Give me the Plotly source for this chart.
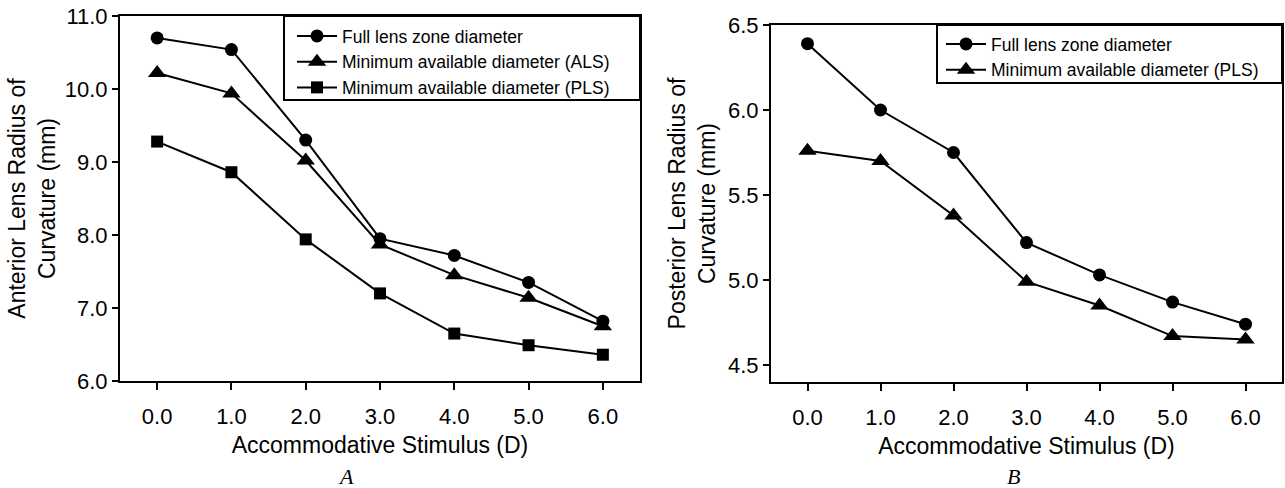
import plotly.graph_objects as go

stimulus = [0, 1, 2, 3, 4, 5, 6]
tick_labels = ["0.0", "1.0", "2.0", "3.0", "4.0", "5.0", "6.0"]

# Panel A: anterior lens radius of curvature (mm)
ant_full = [10.70, 10.54, 9.30, 7.95, 7.72, 7.35, 6.82]
ant_als = [10.22, 9.94, 9.02, 7.87, 7.45, 7.14, 6.75]
ant_pls = [9.28, 8.86, 7.94, 7.20, 6.65, 6.49, 6.36]

# Panel B: posterior lens radius of curvature (mm)
post_full = [6.39, 6.00, 5.75, 5.22, 5.03, 4.87, 4.74]
post_pls = [5.76, 5.70, 5.38, 4.99, 4.85, 4.67, 4.65]

W, H = 1285, 488
FONT = "Liberation Sans, Arial, sans-serif"

def px(x):
    return x / W

def py(y):
    return 1 - y / H

fig = go.Figure()

line = dict(color="black", width=2)

def add(x, y, name, symbol, size, xa, ya, legend):
    fig.add_trace(go.Scatter(
        x=x, y=y, name=name, mode="lines+markers",
        line=line,
        marker=dict(symbol=symbol, size=size, color="black"),
        xaxis=xa, yaxis=ya, legend=legend,
    ))

add(stimulus, ant_full, "Full lens zone diameter", "circle", 13, "x", "y", "legend")
add(stimulus, ant_als, "Minimum available diameter (ALS)", "triangle-up", 16, "x", "y", "legend")
add(stimulus, ant_pls, "Minimum available diameter (PLS)", "square", 12, "x", "y", "legend")
add(stimulus, post_full, "Full lens zone diameter", "circle", 13, "x2", "y2", "legend2")
add(stimulus, post_pls, "Minimum available diameter (PLS)", "triangle-up", 16, "x2", "y2", "legend2")

tickfont = dict(family=FONT, size=22, color="black")
titlefont = dict(family=FONT, size=23, color="black")

xcommon = dict(
    range=[-0.5, 6.5], tickvals=stimulus, ticktext=tick_labels,
    showline=True, linecolor="black", linewidth=2, mirror=True,
    ticks="outside", ticklen=7, tickwidth=2, tickcolor="black",
    showgrid=False, zeroline=False, tickfont=tickfont,
    ticklabelstandoff=8, automargin=False,
    title=dict(text="Accommodative Stimulus (D)", font=titlefont, standoff=8),
    fixedrange=True,
)
ycommon = dict(
    showline=True, linecolor="black", linewidth=2, mirror=True,
    ticks="outside", ticklen=6, tickwidth=2, tickcolor="black",
    showgrid=False, zeroline=False, tickfont=tickfont, automargin=False,
    fixedrange=True,
)

fig.update_layout(
    width=W, height=H,
    margin=dict(l=0, r=0, t=0, b=0, autoexpand=False),
    paper_bgcolor="white", plot_bgcolor="white",
    font=dict(family=FONT, color="black"),
    xaxis=dict(xcommon, domain=[px(120), px(640)], anchor="y"),
    yaxis=dict(ycommon, domain=[py(381), py(16)], anchor="x",
               range=[6.0, 11.0], tickvals=[6, 7, 8, 9, 10, 11],
               ticktext=["6.0", "7.0", "8.0", "9.0", "10.0", "11.0"],
               title=dict(text="Anterior Lens Radius of<br>Curvature (mm)", font=titlefont, standoff=3)),
    xaxis2=dict(xcommon, domain=[px(771), px(1282)], anchor="y2"),
    yaxis2=dict(ycommon, domain=[py(382), py(25)], anchor="x2",
                range=[4.4, 6.5], tickvals=[4.5, 5.0, 5.5, 6.0, 6.5],
                ticktext=["4.5", "5.0", "5.5", "6.0", "6.5"],
                title=dict(text="Posterior Lens Radius of<br>Curvature (mm)", font=titlefont, standoff=6)),
    legend=dict(x=px(292), y=py(18), xanchor="left", yanchor="top",
                bgcolor="rgba(0,0,0,0)", borderwidth=0,
                font=dict(family=FONT, size=17.5, color="black"),
                itemwidth=40, tracegroupgap=0),
    legend2=dict(x=px(941), y=py(26), xanchor="left", yanchor="top",
                 bgcolor="rgba(0,0,0,0)", borderwidth=0,
                 font=dict(family=FONT, size=17.5, color="black"),
                 itemwidth=40, tracegroupgap=0),
    showlegend=True,
    shapes=[
        dict(type="rect", xref="paper", yref="paper",
             x0=px(284), x1=px(640), y0=py(100), y1=py(16),
             line=dict(color="black", width=2), fillcolor="rgba(0,0,0,0)", layer="above"),
        dict(type="rect", xref="paper", yref="paper",
             x0=px(937), x1=px(1282), y0=py(83), y1=py(25),
             line=dict(color="black", width=2), fillcolor="rgba(0,0,0,0)", layer="above"),
    ],
    annotations=[
        dict(text="<i>A</i>", x=px(346), y=py(476), xref="paper", yref="paper",
             xanchor="center", yanchor="middle",
             showarrow=False, font=dict(family="Liberation Serif, Times New Roman, serif", size=22, color="black")),
        dict(text="<i>B</i>", x=px(1013), y=py(476), xref="paper", yref="paper",
             xanchor="center", yanchor="middle",
             showarrow=False, font=dict(family="Liberation Serif, Times New Roman, serif", size=22, color="black")),
    ],
)

fig.write_html("out.html", config={"displayModeBar": False})
